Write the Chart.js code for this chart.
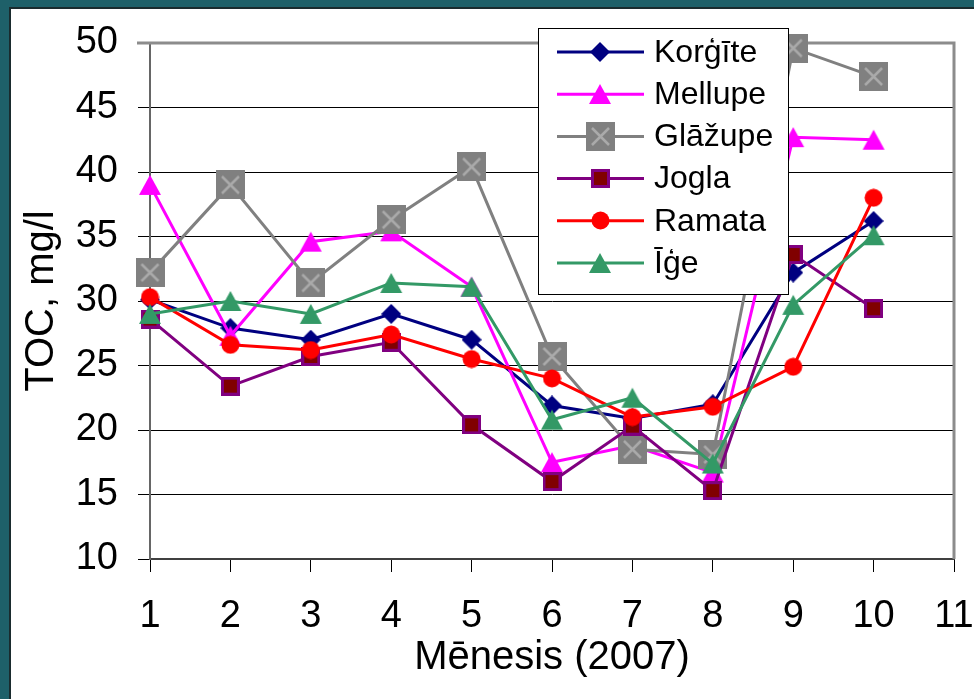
<!DOCTYPE html>
<html><head><meta charset="utf-8">
<script src="https://cdn.jsdelivr.net/npm/chart.js@4.4.0/dist/chart.umd.min.js"></script>
<style>html,body{margin:0;padding:0;background:#1e6069;overflow:hidden}canvas{display:block}</style>
</head><body>
<canvas id="c" width="974" height="699"></canvas>
<script>
// ---- data ----
const months = [1, 2, 3, 4, 5, 6, 7, 8, 9, 10];
const seriesNames = ['Korģīte', 'Mellupe', 'Glāžupe', 'Jogla', 'Ramata', 'Īģe'];
const korgite = [30.1, 27.9, 27.0, 29.0, 27.0, 21.9, 20.9, 22.0, 32.2, 36.2];
const mellupe = [39.0, 27.3, 34.6, 35.4, 31.1, 17.5, 18.8, 16.7, 42.7, 42.5];
const glazupe = [32.2, 39.0, 31.4, 36.3, 40.4, 25.7, 18.5, 18.1, 49.6, 47.4];
const jogla   = [28.6, 23.4, 25.7, 26.8, 20.4, 16.0, 20.3, 15.3, 33.6, 29.4];
const ramata  = [30.3, 26.6, 26.2, 27.4, 25.5, 24.0, 21.0, 21.8, 24.9, 38.0];
const ige     = [29.0, 30.0, 29.0, 31.4, 31.1, 20.8, 22.5, 17.4, 29.7, 35.1];
const yTitle = 'TOC, mg/l';
const xTitle = 'Mēnesis (2007)';

// ---- markers ----
function makeMarker(kind, fill, stroke) {
  const c = document.createElement('canvas');
  let w, h;
  if (kind === 'xsquare') { w = h = 29; }
  else if (kind === 'triangle') { w = 24; h = 22; }
  else if (kind === 'diamond') { w = h = 20; }
  else if (kind === 'square') { w = h = 19; }
  else { w = h = 19; }
  c.width = w; c.height = h;
  const g = c.getContext('2d');
  g.fillStyle = fill;
  if (kind === 'xsquare') {
    g.fillRect(0, 0, w, h);
    g.strokeStyle = stroke; g.lineWidth = 2.5;
    g.beginPath(); g.moveTo(6, 6); g.lineTo(w - 6, h - 6); g.moveTo(w - 6, 6); g.lineTo(6, h - 6); g.stroke();
  } else if (kind === 'triangle') {
    g.beginPath(); g.moveTo(1, h - 1); g.lineTo(w - 1, h - 1); g.lineTo(w / 2, 1); g.closePath(); g.fill();
  } else if (kind === 'diamond') {
    g.beginPath(); g.moveTo(w / 2, 0); g.lineTo(w, h / 2); g.lineTo(w / 2, h); g.lineTo(0, h / 2); g.closePath(); g.fill();
  } else if (kind === 'square') {
    g.fillStyle = stroke; g.fillRect(0, 0, w, h);
    g.fillStyle = fill; g.fillRect(3, 3, w - 6, h - 6);
  } else {
    g.beginPath(); g.arc(w / 2, h / 2, 9, 0, Math.PI * 2); g.fill();
  }
  return c;
}

const styles = [
  { color: '#000080', marker: makeMarker('diamond', '#000080') },
  { color: '#ff00ff', marker: makeMarker('triangle', '#ff00ff') },
  { color: '#808080', marker: makeMarker('xsquare', '#808080', '#aaaaaa') },
  { color: '#800080', marker: makeMarker('square', '#800000', '#800080') },
  { color: '#ff0000', marker: makeMarker('circle', '#ff0000') },
  { color: '#339966', marker: makeMarker('triangle', '#339966') }
];
const seriesValues = [korgite, mellupe, glazupe, jogla, ramata, ige];

const datasets = seriesValues.map((vals, i) => ({
  label: seriesNames[i],
  data: months.map((m, j) => ({ x: m, y: vals[j] })),
  borderColor: styles[i].color,
  backgroundColor: styles[i].color,
  borderWidth: 3,
  pointStyle: styles[i].marker,
  pointRadius: 10,
  tension: 0,
  clip: false,
  order: seriesValues.length - i
}));

const bgPlugin = {
  id: 'bg',
  beforeDraw(chart) {
    const ctx = chart.ctx;
    ctx.save();
    ctx.fillStyle = '#1e6069'; ctx.fillRect(0, 0, 974, 699);
    ctx.fillStyle = '#1a2b2e'; ctx.fillRect(9, 7, 965, 692);
    ctx.fillStyle = '#ffffff'; ctx.fillRect(11, 9, 963, 690);
    ctx.restore();
  }
};

const plotBorder = {
  id: 'plotBorder',
  beforeDatasetsDraw(chart) {
    const { ctx, chartArea: a } = chart;
    ctx.save();
    ctx.strokeStyle = '#8c8c8c'; ctx.lineWidth = 3;
    ctx.beginPath();
    ctx.moveTo(a.left - 13, a.top); ctx.lineTo(a.right, a.top); ctx.lineTo(a.right, a.bottom);
    ctx.stroke();
    ctx.restore();
  }
};

const boxLegend = {
  id: 'boxLegend',
  afterDraw(chart) {
    const ctx = chart.ctx;
    const L = 538, T = 28, R = 789, B = 295;
    ctx.save();
    ctx.fillStyle = '#fff'; ctx.fillRect(L, T, R - L, B - T);
    ctx.strokeStyle = '#000'; ctx.lineWidth = 1; ctx.strokeRect(L + 0.5, T + 0.5, R - L - 1, B - T - 1);
    chart.data.datasets.forEach((ds, i) => {
      const y = 52 + i * 42.2;
      ctx.strokeStyle = ds.borderColor; ctx.lineWidth = 3;
      ctx.beginPath(); ctx.moveTo(557, y); ctx.lineTo(644, y); ctx.stroke();
      const img = ds.pointStyle;
      ctx.drawImage(img, Math.round(600 - img.width / 2), Math.round(y - img.height / 2));
      ctx.fillStyle = '#000';
      ctx.font = '32px "Liberation Sans", Arial, sans-serif';
      ctx.textBaseline = 'middle'; ctx.textAlign = 'left';
      ctx.fillText(ds.label, 654, y + 1);
    });
    ctx.restore();
  }
};

Chart.defaults.font.family = '"Liberation Sans", Arial, sans-serif';
Chart.defaults.color = '#000';

new Chart(document.getElementById('c'), {
  type: 'line',
  data: { datasets },
  plugins: [bgPlugin, plotBorder, boxLegend],
  options: {
    responsive: false,
    animation: false,
    devicePixelRatio: 1,
    layout: { padding: { top: 43, right: 20, bottom: 0, left: 0 } },
    plugins: { legend: { display: false }, tooltip: { enabled: false } },
    scales: {
      x: {
        type: 'linear', min: 1, max: 11,
        ticks: { stepSize: 1, autoSkip: false, maxRotation: 0, padding: 22, font: { size: 38 }, color: '#000' },
        grid: { drawOnChartArea: false, drawTicks: true, tickLength: 13, color: '#000', tickColor: '#000' },
        border: { color: '#404040', width: 2 },
        title: { display: true, text: xTitle, font: { size: 40 }, color: '#000', padding: { top: 0, bottom: 17 } },
        afterFit(s) { s.height = 140; s.paddingLeft = 0; s.paddingRight = 0; }
      },
      y: {
        min: 10, max: 50,
        ticks: { stepSize: 5, padding: 20, font: { size: 38 }, color: '#000' },
        grid: { color: '#000', tickColor: '#000', tickLength: 12, lineWidth: 1 },
        border: { color: '#666666', width: 2 },
        title: { display: true, text: yTitle, font: { size: 40 }, color: '#000', padding: { top: 18, bottom: 0 } },
        afterFit(s) { s.width = 150; s.paddingTop = 0; s.paddingBottom = 0; }
      }
    }
  }
});
</script>
</body></html>
